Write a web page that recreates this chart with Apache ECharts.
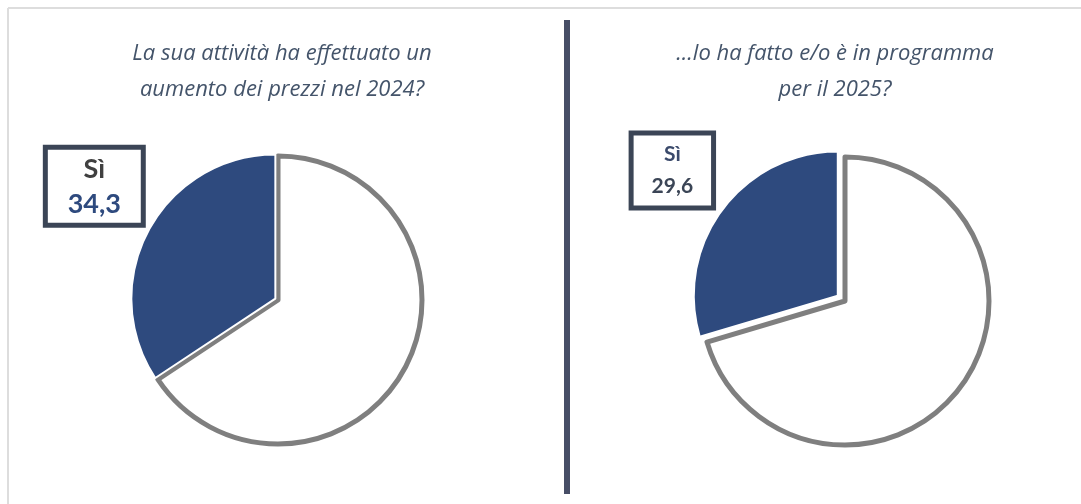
<!DOCTYPE html>
<html>
<head>
<meta charset="utf-8">
<script src="https://cdn.jsdelivr.net/npm/echarts@6/dist/echarts.min.js"></script>
<style>
  html, body { margin:0; padding:0; background:#fff; }
  #chart { width:1081px; height:504px; }
</style>
</head>
<body>
<div id="chart"></div>
<script>
var titles = ['La sua attività ha effettuato un\naumento dei prezzi nel 2024?', '...lo ha fatto e/o è in programma\nper il 2025?'];
var categories = ['No', 'Sì'];
var values2024 = [65.7, 34.3];
var values2025 = [70.4, 29.6];

var blue = '#2e4a7e';
var ringGray = '#7f7f7f';
var boxColor = '#3b4556';

function pieData(vals) {
	return vals.map(function(v, i){
		if (i === 0) {
			return { name: categories[i], value: v,
				itemStyle: { color: '#ffffff', borderColor: ringGray, borderWidth: 5 },
				label: { show: false }, labelLine: { show: false } };
		}
		return { name: categories[i], value: v, selected: true,
			itemStyle: { color: blue, borderColor: '#ffffff', borderWidth: 2 } };
	});
}

function fmt(p) {
	return '{a|' + p.name + '}\n{b|' + String(p.value).replace('.', ',') + '}';
}

var titleStyle = { fontFamily: 'Open Sans', fontStyle: 'italic', fontWeight: 'normal', fontSize: 22, lineHeight: 36, color: '#44546a' };

var myChart = echarts.init(document.getElementById('chart'));

var option = {
	backgroundColor: '#ffffff',
	animation: false,
	title: [
		{ text: titles[0], left: 277, top: 31, textAlign: 'center', textStyle: titleStyle },
		{ text: titles[1], left: 830, top: 31, textAlign: 'center', textStyle: titleStyle }
	],
	graphic: [
		{ type: 'line', shape: { x1: 8, y1: 8, x2: 1081, y2: 8 }, style: { stroke: '#dddddd', lineWidth: 2 } },
		{ type: 'line', shape: { x1: 8, y1: 8, x2: 8, y2: 504 }, style: { stroke: '#dddddd', lineWidth: 2 } },
		{ type: 'rect', shape: { x: 564, y: 20, width: 6, height: 474 }, style: { fill: '#474e66' } }
	],
	series: [
		{
			type: 'pie',
			center: [278, 300],
			radius: 144,
			startAngle: 90,
			selectedMode: 'single',
			selectedOffset: 3,
			emphasis: { disabled: true },
			data: pieData(values2024),
			label: {
				show: true,
				formatter: fmt,
				align: 'center',
				verticalAlign: 'middle',
				backgroundColor: '#ffffff',
				borderColor: boxColor,
				borderWidth: 5,
				padding: [2, 19, 1, 19],
				rich: {
					a: { fontFamily: 'Lato', fontWeight: 'bold', fontSize: 27, color: '#404040', lineHeight: 35, align: 'center' },
					b: { fontFamily: 'Lato', fontWeight: 'bold', fontSize: 27, color: '#2e4a7e', lineHeight: 35, align: 'center' }
				}
			},
			labelLine: { show: false },
			labelLayout: { dx: -6, dy: -37, align: 'center', verticalAlign: 'middle' }
		},
		{
			type: 'pie',
			center: [845, 301],
			radius: 144,
			startAngle: 90,
			selectedMode: 'single',
			selectedOffset: 9,
			emphasis: { disabled: true },
			data: pieData(values2025),
			label: {
				show: true,
				formatter: fmt,
				align: 'center',
				verticalAlign: 'middle',
				backgroundColor: '#ffffff',
				borderColor: boxColor,
				borderWidth: 5,
				padding: [3, 18, 3, 18],
				rich: {
					a: { fontFamily: 'Lato', fontWeight: 'bold', fontSize: 21, color: '#3b4a6b', lineHeight: 32, align: 'center' },
					b: { fontFamily: 'Lato', fontWeight: 'bold', fontSize: 21, color: '#3b4556', lineHeight: 32, align: 'center' }
				}
			},
			labelLine: { show: false },
			labelLayout: { dx: -3, dy: -30, align: 'center', verticalAlign: 'middle' }
		}
	]
};
myChart.setOption(option);
</script>
</body>
</html>
